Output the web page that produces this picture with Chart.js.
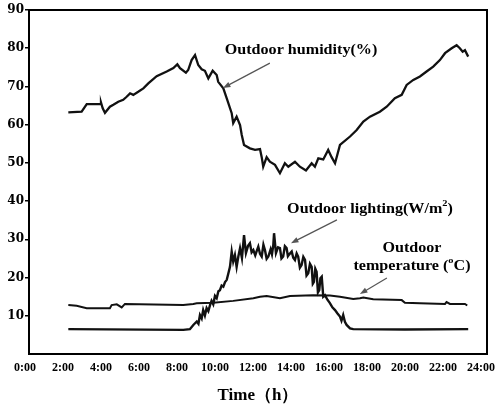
<!DOCTYPE html>
<html lang="en">
<head>
<meta charset="UTF-8" />
<title>Outdoor humidity, lighting and temperature</title>
<script src="https://cdn.jsdelivr.net/npm/chart.js"></script>
<style>
    html, body {
        margin: 0;
        padding: 0;
        background: #fff;
    }
</style>
</head>
<body>

<canvas id="dayChart" width="497" height="408"></canvas>

<script>
    // time of day (h) and readings for each series
    const humidityTime = [
        2.28, 2.98, 3.25, 3.95, 4.00, 4.09, 4.21, 4.47, 4.65, 4.91,
        5.17, 5.35, 5.53, 5.70, 5.96, 6.23, 6.49, 6.93, 7.46, 7.81,
        8.02, 8.16, 8.47, 8.59, 8.77, 8.95, 9.12, 9.30, 9.47, 9.65,
        9.88, 10.09, 10.17, 10.44, 10.62, 10.88, 10.96, 11.14, 11.32, 11.41,
        11.53, 11.84, 12.11, 12.37, 12.46, 12.54, 12.72, 12.89, 13.16, 13.42,
        13.68, 13.86, 14.21, 14.47, 14.79, 15.09, 15.26, 15.44, 15.70, 15.96,
        16.14, 16.32, 16.58, 17.11, 17.46, 17.81, 18.16, 18.68, 19.04, 19.47,
        19.83, 20.09, 20.44, 20.79, 21.14, 21.49, 21.84, 22.11, 22.46, 22.72,
        22.89, 23.04, 23.16, 23.33
    ];
    const humidity = [
        63.2, 63.4, 65.4, 65.4, 65.8, 64.3, 63.1, 64.7, 65.2, 66.0,
        66.5, 67.3, 68.2, 67.8, 68.6, 69.5, 70.8, 72.7, 73.9, 74.8,
        75.8, 74.8, 73.6, 74.3, 76.9, 78.2, 75.6, 74.5, 74.1, 72.1,
        74.1, 73.0, 71.2, 69.5, 66.9, 63.0, 60.4, 62.1, 59.9, 57.3,
        54.7, 53.8, 53.4, 53.6, 51.5, 49.0, 51.5, 50.3, 49.5, 47.3,
        49.9, 49.0, 50.3, 49.0, 48.0, 49.9, 49.0, 51.2, 50.9, 53.4,
        51.5, 49.9, 54.7, 56.9, 58.6, 60.8, 62.1, 63.4, 64.7, 66.9,
        67.8, 70.4, 71.7, 72.6, 73.9, 75.2, 76.9, 78.7, 80.0, 80.8,
        80.0, 79.1, 79.5, 77.8
    ];

    const lightingTime = [
        2.28, 8.33, 8.68, 8.86, 9.04, 9.13, 9.21, 9.30, 9.38, 9.47,
        9.56, 9.65, 9.74, 9.82, 9.91, 10.00, 10.09, 10.18, 10.26, 10.35,
        10.44, 10.53, 10.62, 10.70, 10.79, 10.88, 10.96, 11.05, 11.14, 11.23,
        11.32, 11.42, 11.53, 11.63, 11.74, 11.84, 11.93, 12.02, 12.12, 12.20,
        12.28, 12.37, 12.46, 12.55, 12.63, 12.72, 12.81, 12.93, 13.00, 13.07,
        13.11, 13.21, 13.32, 13.42, 13.50, 13.59, 13.68, 13.77, 13.84, 13.90,
        14.04, 14.12, 14.21, 14.30, 14.38, 14.47, 14.56, 14.65, 14.74, 14.82,
        14.91, 15.00, 15.09, 15.15, 15.21, 15.28, 15.35, 15.42, 15.49, 15.55,
        15.62, 15.70, 15.79, 15.92, 16.05, 16.18, 16.32, 16.45, 16.58, 16.66,
        16.75, 16.84, 16.93, 17.11, 17.28, 20.00, 23.33
    ];
    const lighting = [
        6.5, 6.3, 6.5, 7.6, 8.5, 7.9, 10.2, 9.3, 11.5, 10.1,
        12.0, 11.2, 12.8, 13.9, 13.0, 15.2, 14.6, 16.4, 16.7, 17.9,
        17.6, 18.8, 19.4, 21.0, 22.8, 26.8, 24.2, 25.9, 22.8, 25.5,
        27.7, 25.1, 31.1, 26.4, 28.3, 29.0, 26.6, 27.2, 25.8, 27.0,
        28.1, 26.2, 25.5, 28.6, 27.2, 24.9, 25.5, 27.4, 26.1, 28.5,
        31.6, 26.4, 27.9, 27.7, 25.0, 25.5, 28.2, 27.7, 25.6, 26.0,
        26.8, 25.2, 24.6, 26.3, 25.5, 22.6, 23.3, 25.4, 24.6, 20.5,
        21.1, 23.6, 22.8, 18.4, 18.9, 22.3, 21.5, 16.1, 16.7, 19.8,
        20.2, 15.0, 15.4, 14.2, 13.3, 12.2, 11.5, 10.6, 9.8, 8.7,
        10.2, 8.4, 7.6, 6.7, 6.5, 6.4, 6.5
    ];

    const temperatureTime = [
        2.28, 2.72, 3.25, 4.47, 4.56, 4.83, 5.09, 5.26, 8.33, 8.86,
        9.04, 9.91, 10.96, 12.02, 12.37, 12.72, 13.42, 13.95, 15.17, 16.05,
        16.58, 17.28, 17.63, 17.81, 18.33, 19.83, 20.00, 20.79, 22.11, 22.19,
        22.37, 23.16, 23.28
    ];
    const temperature = [
        12.8, 12.6, 12.0, 12.0, 12.8, 13.0, 12.2, 13.1, 12.8, 13.1,
        13.3, 13.4, 13.9, 14.6, 15.0, 15.2, 14.6, 15.2, 15.4, 15.3,
        15.0, 14.4, 14.6, 14.8, 14.3, 14.1, 13.4, 13.3, 13.1, 13.6,
        13.1, 13.1, 12.7
    ];

    const hourTicks = [0, 2, 4, 6, 8, 10, 12, 14, 16, 18, 20, 22, 24];
    const valueTicks = [10, 20, 30, 40, 50, 60, 70, 80, 90];

    const serif = '"Liberation Serif", "Times New Roman", serif';

    function toPoints(xs, ys) {
        return xs.map((x, i) => ({ x: x, y: ys[i] }));
    }

    // callouts: text centre and arrow, both in axis units (hours, value)
    const callouts = [
        {
            lines: [{ runs: [{ t: 'Outdoor humidity(%)' }], x: 14.53, y: 79.5 }],
            arrow: [12.89, 76.1, 10.42, 69.6]
        },
        {
            lines: [{ runs: [{ t: 'Outdoor lighting(W/m' }, { t: '2', sup: true }, { t: ')' }], x: 18.16, y: 37.9 }],
            arrow: [16.42, 35.1, 14.00, 29.0]
        },
        {
            lines: [
                { runs: [{ t: 'Outdoor' }], x: 20.37, y: 27.7 },
                { runs: [{ t: 'temperature (' }, { t: 'o', sup: true }, { t: 'C)' }], x: 20.37, y: 23.0 }
            ],
            arrow: [19.05, 19.9, 17.63, 15.7]
        }
    ];

    const TEXT_FONT = 'bold 14px ' + serif;
    const SUP_FONT = 'bold 9px ' + serif;
    const STRETCH = 1.15;

    function drawRuns(ctx, runs, cx, cy) {
        let w = 0;
        runs.forEach(r => {
            ctx.font = r.sup ? SUP_FONT : TEXT_FONT;
            w += ctx.measureText(r.t).width;
        });
        ctx.save();
        ctx.translate(cx, cy);
        ctx.scale(STRETCH, 1);
        ctx.fillStyle = '#000';
        ctx.textAlign = 'left';
        ctx.textBaseline = 'middle';
        let x = -w / 2;
        runs.forEach(r => {
            ctx.font = r.sup ? SUP_FONT : TEXT_FONT;
            ctx.fillText(r.t, x, r.sup ? -5 : 0);
            x += ctx.measureText(r.t).width;
        });
        ctx.restore();
    }

    function drawArrow(ctx, x1, y1, x2, y2) {
        const a = Math.atan2(y2 - y1, x2 - x1);
        ctx.save();
        ctx.strokeStyle = '#555';
        ctx.fillStyle = '#555';
        ctx.lineWidth = 1.2;
        ctx.beginPath();
        ctx.moveTo(x1, y1);
        ctx.lineTo(x2 - 5 * Math.cos(a), y2 - 5 * Math.sin(a));
        ctx.stroke();
        ctx.beginPath();
        ctx.moveTo(x2, y2);
        ctx.lineTo(x2 - 8 * Math.cos(a - 0.35), y2 - 8 * Math.sin(a - 0.35));
        ctx.lineTo(x2 - 8 * Math.cos(a + 0.35), y2 - 8 * Math.sin(a + 0.35));
        ctx.closePath();
        ctx.fill();
        ctx.restore();
    }

    const framePlugin = {
        id: 'frame',
        afterDraw(chart) {
            const { ctx, chartArea: a, scales } = chart;
            ctx.save();
            ctx.strokeStyle = '#000';
            ctx.lineWidth = 2;
            ctx.strokeRect(a.left, a.top, a.right - a.left, a.bottom - a.top);
            ctx.restore();

            const sx = scales.x, sy = scales.y;
            callouts.forEach(c => {
                c.lines.forEach(l => {
                    drawRuns(ctx, l.runs, sx.getPixelForValue(l.x), sy.getPixelForValue(l.y));
                });
                const [x1, y1, x2, y2] = c.arrow;
                drawArrow(ctx,
                    sx.getPixelForValue(x1), sy.getPixelForValue(y1),
                    sx.getPixelForValue(x2), sy.getPixelForValue(y2));
            });
        }
    };

    function lineSet(label, xs, ys, width) {
        return {
            label: label,
            data: toPoints(xs, ys),
            borderColor: '#111',
            borderWidth: width,
            pointRadius: 0,
            tension: 0,
            fill: false
        };
    }

    new Chart(document.getElementById('dayChart'), {
        type: 'line',
        data: {
            datasets: [
                lineSet('Outdoor humidity(%)', humidityTime, humidity, 2.3),
                lineSet('Outdoor lighting(W/m2)', lightingTime, lighting, 2.4),
                lineSet('Outdoor temperature (oC)', temperatureTime, temperature, 2)
            ]
        },
        options: {
            responsive: false,
            animation: false,
            layout: { padding: { top: 10, right: 10, left: 0, bottom: 0 } },
            plugins: {
                legend: { display: false },
                tooltip: { enabled: false }
            },
            scales: {
                x: {
                    type: 'linear',
                    min: 0.21,
                    max: 24.32,
                    afterBuildTicks: s => { s.ticks = hourTicks.map(v => ({ value: v })); },
                    afterFit: s => { s.height = 54; s.paddingLeft = 0; s.paddingRight = 0; },
                    grid: { display: false, drawTicks: false, tickLength: 0 },
                    border: { display: false },
                    ticks: {
                        autoSkip: false,
                        maxRotation: 0,
                        padding: 7,
                        color: '#000',
                        font: { family: serif, size: 12, weight: 'bold' },
                        callback: v => v + ':00'
                    },
                    title: {
                        display: true,
                        text: 'Time（h）',
                        color: '#000',
                        font: { family: serif, size: 17, weight: 'bold' },
                        padding: { top: 0, bottom: 2 }
                    }
                },
                y: {
                    min: 0,
                    max: 90,
                    afterBuildTicks: s => { s.ticks = valueTicks.map(v => ({ value: v })); },
                    afterFit: s => { s.width = 29; },
                    grid: {
                        drawOnChartArea: false,
                        drawTicks: true,
                        tickLength: 4,
                        color: '#000',
                        lineWidth: 1.5
                    },
                    border: { display: false },
                    ticks: {
                        padding: 1,
                        color: '#000',
                        font: { family: '"DejaVu Serif", serif', size: 12, weight: 'bold' }
                    }
                }
            }
        },
        plugins: [framePlugin]
    });
</script>

</body>
</html>
